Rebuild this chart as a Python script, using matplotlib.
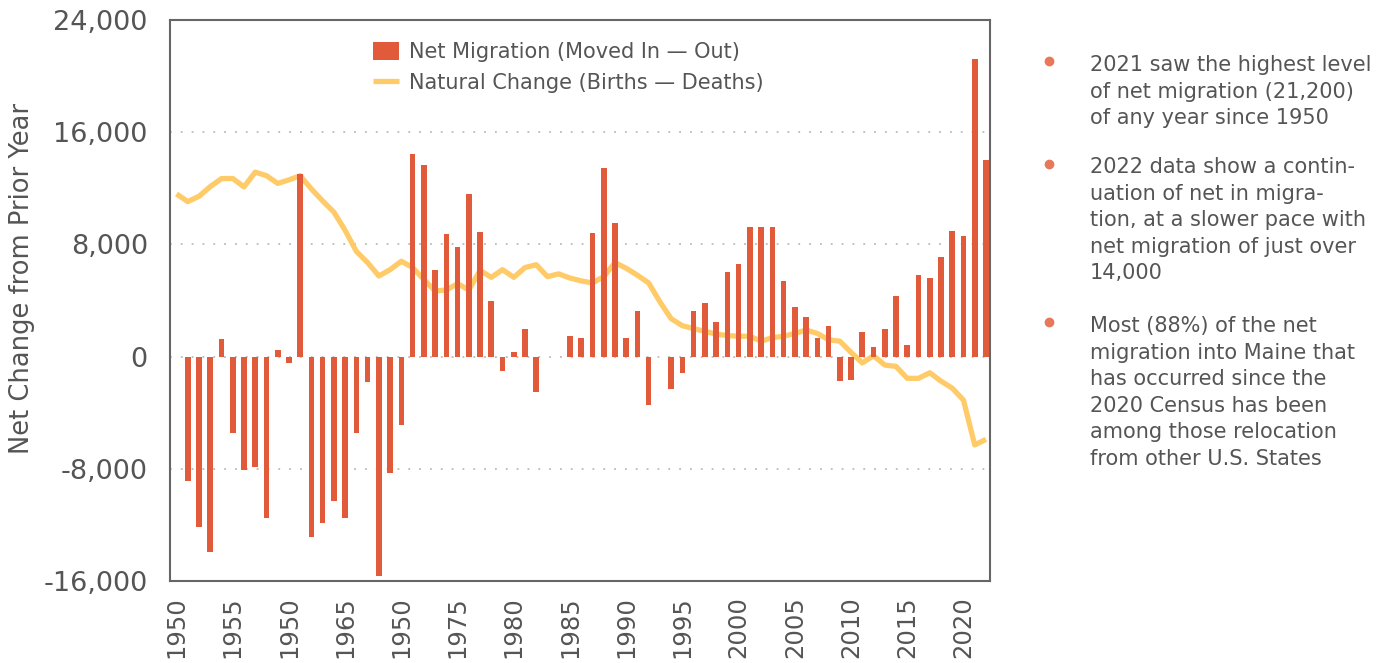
import numpy as np
import matplotlib.pyplot as plt
from matplotlib.lines import Line2D

# данные (чтение с картинки)
years = np.arange(1950, 2023)
migration = [
    0, -8870, -12180, -13900, 1290, -5480, -8120, -7880, -11520, 450,
    -450, 12990, -12870, -11880, -10320, -11520, -5420, -1800, -15640, -8330,
    -4900, 14440, 13630, 6170, 8750, 7800, 11580, 8870, 4000, -1050,
    300, 1950, -2500, 0, 0, 1500, 1350, 8810, 13450, 9530,
    1350, 3220, -3460, 0, -2320, -1200, 3220, 3820, 2500, 6020,
    6620, 9240, 9240, 9240, 5420, 3550, 2800, 1350, 2200, -1750,
    -1650, 1750, 690, 1950, 4300, 810, 5800, 5570, 7130, 8960,
    8570, 21200, 14000,
]
natural = [
    11600, 11050, 11430, 12120, 12690, 12700, 12100, 13150, 12900, 12350,
    12600, 12900, 11950, 11100, 10300, 9000, 7500, 6700, 5750, 6200,
    6800, 6350, 5500, 4680, 4750, 5200, 4750, 6150, 5650, 6200,
    5650, 6350, 6550, 5700, 5900, 5600, 5400, 5250, 5700, 6700,
    6300, 5800, 5250, 3900, 2700, 2200, 2000, 1800, 1600, 1500,
    1450, 1450, 1100, 1350, 1450, 1650, 1900, 1650, 1200, 1100,
    300, -450, 60, -600, -700, -1550, -1550, -1150, -1750, -2250,
    -3100, -6300, -5900,
]
tick_years = list(range(1950, 2021, 5))
tick_labels = ['1950', '1955', '1950', '1965', '1950', '1975', '1980', '1985',
               '1990', '1995', '2000', '2005', '2010', '2015', '2020']
y_ticks = [-16000, -8000, 0, 8000, 16000, 24000]

notes = [
    "2021 saw the highest level\nof net migration (21,200)\nof any year since 1950",
    "2022 data show a contin-\nuation of net in migra-\ntion, at a slower pace with\nnet migration of just over\n14,000",
    "Most (88%) of the net\nmigration into Maine that\nhas occurred since the\n2020 Census has been\namong those relocation\nfrom other U.S. States",
]

RED = '#E15B3A'
YELLOW = '#FFCB69'
GREY = '#555555'

fig = plt.figure(figsize=(13.87, 6.63), dpi=100)
ax = fig.add_axes([170 / 1387, 1 - 581 / 663, 820 / 1387, 561 / 663])

ax.plot(years, natural, color=YELLOW, lw=3.8, solid_joinstyle='round',
        solid_capstyle='butt', zorder=2, label='Natural Change (Births \u2014 Deaths)')
ax.bar(years, migration, width=0.5, color=RED, zorder=3,
       label='Net Migration (Moved In \u2014 Out)')

ax.set_xlim(1949.42, 2022.36)
ax.set_ylim(-16000, 24000)
ax.set_yticks(y_ticks)
ax.set_yticklabels([f'{v:,}' for v in y_ticks], fontsize=19.5, color=GREY)
ax.set_xticks(tick_years)
ax.set_xticklabels(tick_labels, rotation=90, fontsize=17.5, color=GREY)
ax.tick_params(axis='y', length=0, pad=16)
ax.tick_params(axis='x', length=0, pad=11)

for v in y_ticks[1:-1]:
    ax.axhline(v, color='#BBBBBB', lw=1.3, ls=(0, (1, 5)), zorder=1)

for s in ax.spines.values():
    s.set_color('#666666')
    s.set_linewidth(1.5)

handles, labels = ax.get_legend_handles_labels()
ax.legend(handles[::-1], labels[::-1], loc='upper left', bbox_to_anchor=(0.225, 0.995),
          frameon=False, fontsize=15, labelcolor=GREY, handlelength=1.25,
          handleheight=1.0, handletextpad=0.45, labelspacing=0.5)

fig.text(22 / 1387, 1 - 278 / 663, 'Net Change from Prior Year', rotation=90,
         ha='center', va='center', fontsize=18.5, color=GREY)

# заметки справа
note_tops = [55, 157, 316]
dot_ys = [61, 164, 322]
for txt, top, dy in zip(notes, note_tops, dot_ys):
    fig.text(1090 / 1387, 1 - top / 663, txt, ha='left', va='top', fontsize=15,
             color=GREY, linespacing=1.41)
    fig.add_artist(Line2D([1049 / 1387], [1 - dy / 663], marker='o', markersize=6,
                          color='#E8785A', transform=fig.transFigure))

fig.savefig('out.png', dpi=100)
